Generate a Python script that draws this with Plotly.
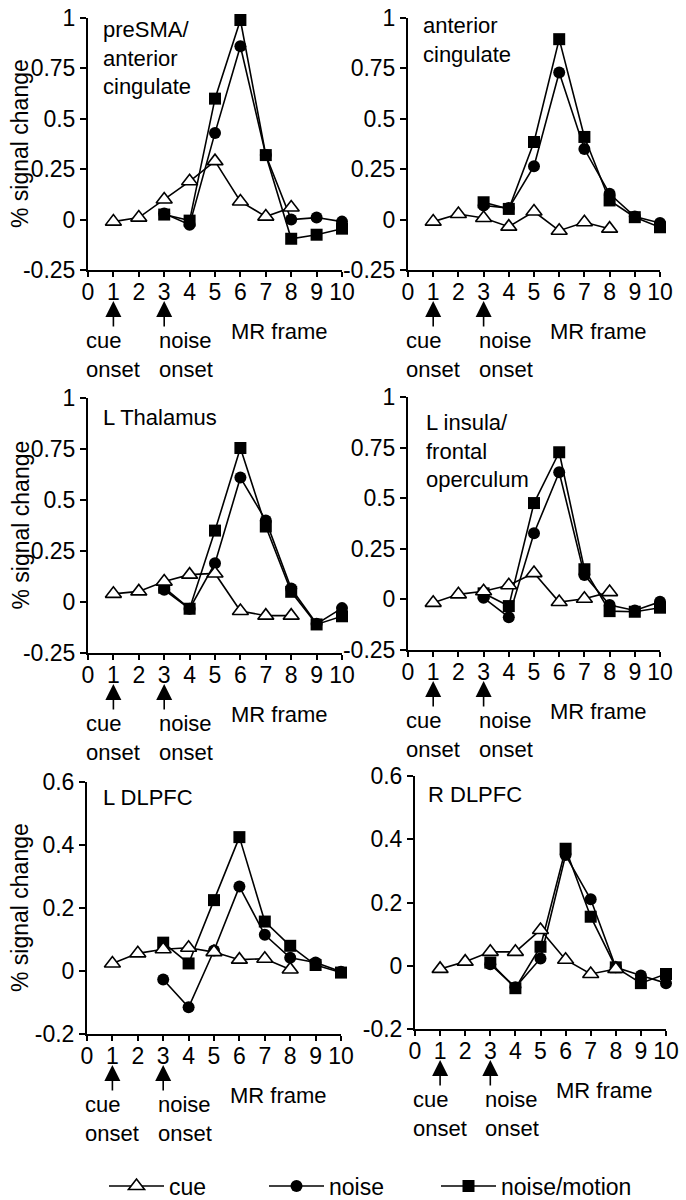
import plotly.graph_objects as go

# ---------------- data ----------------
frames_cue = [1, 2, 3, 4, 5, 6, 7, 8]
frames_noise = [3, 4, 5, 6, 7, 8, 9, 10]

p1_cue = [-0.01, 0.01, 0.10, 0.19, 0.29, 0.09, 0.015, 0.06]
p1_noise = [0.03, -0.025, 0.43, 0.86, 0.32, 0.0, 0.01, -0.01]
p1_motion = [0.025, -0.005, 0.60, 0.99, 0.32, -0.095, -0.075, -0.045]

p2_cue = [-0.01, 0.028, 0.008, -0.035, 0.04, -0.055, -0.013, -0.045]
p2_noise = [0.07, 0.057, 0.265, 0.73, 0.35, 0.128, 0.015, -0.017]
p2_motion = [0.086, 0.053, 0.385, 0.895, 0.41, 0.095, 0.012, -0.038]

p3_cue = [0.04, 0.052, 0.10, 0.134, 0.14, -0.044, -0.067, -0.067]
p3_noise = [0.06, -0.033, 0.19, 0.61, 0.40, 0.066, -0.107, -0.03]
p3_motion = [0.07, -0.033, 0.35, 0.755, 0.37, 0.05, -0.11, -0.07]

p4_cue = [-0.017, 0.025, 0.04, 0.07, 0.13, -0.013, 0.003, 0.036]
p4_noise = [0.008, -0.088, 0.327, 0.628, 0.12, -0.028, -0.055, -0.012]
p4_motion = [0.03, -0.033, 0.476, 0.727, 0.149, -0.058, -0.061, -0.041]

p5_cue = [0.024, 0.056, 0.069, 0.074, 0.06, 0.036, 0.039, 0.005]
p5_noise = [-0.027, -0.115, 0.065, 0.268, 0.115, 0.042, 0.027, -0.002]
p5_motion = [0.09, 0.024, 0.225, 0.425, 0.157, 0.08, 0.019, -0.005]

p6_cue = [-0.01, 0.013, 0.044, 0.044, 0.113, 0.019, -0.026, -0.01]
p6_noise = [0.005, -0.068, 0.023, 0.35, 0.21, -0.005, -0.031, -0.055]
p6_motion = [0.01, -0.071, 0.06, 0.37, 0.155, -0.005, -0.055, -0.026]

region_titles = [
    "preSMA/<br>anterior<br>cingulate",
    "anterior<br>cingulate",
    "L Thalamus",
    "L insula/<br>frontal<br>operculum",
    "L DLPFC",
    "R DLPFC",
]

x_ticks = list(range(0, 11))
y_ticks_big = [-0.25, 0, 0.25, 0.5, 0.75, 1]
y_ticktext_big = ["-0.25", "0", "0.25", "0.5", "0.75", "1"]
y_ticks_small = [-0.2, 0, 0.2, 0.4, 0.6]
y_ticktext_small = ["-0.2", "0", "0.2", "0.4", "0.6"]

series_names = ["cue", "noise", "noise/motion"]
y_title = "% signal change"
x_title = "MR frame"
cue_label = "cue<br>onset"
noise_label = "noise<br>onset"

# ---------------- layout helpers ----------------
W, H = 686, 1200
FONT = "Liberation Sans, Arial, Helvetica, sans-serif"
FS = 21


def xp(px):
    return px / W


def yp(py):
    return 1 - py / H


# box = (x0, x1, y_top, y_bottom) in pixels; tl = title left px; tt = title top px
panels = [
    dict(cue=p1_cue, noise=p1_noise, motion=p1_motion, box=(88, 342, 18, 270),
         yr=(-0.25, 1), yt=(y_ticks_big, y_ticktext_big), tl=101, tt=15, ytitle=True),
    dict(cue=p2_cue, noise=p2_noise, motion=p2_motion, box=(408, 660, 18, 270),
         yr=(-0.25, 1), yt=(y_ticks_big, y_ticktext_big), tl=421, tt=11, ytitle=False),
    dict(cue=p3_cue, noise=p3_noise, motion=p3_motion, box=(88, 342, 398, 653),
         yr=(-0.25, 1), yt=(y_ticks_big, y_ticktext_big), tl=101, tt=403, ytitle=True),
    dict(cue=p4_cue, noise=p4_noise, motion=p4_motion, box=(408, 660, 397, 650),
         yr=(-0.25, 1), yt=(y_ticks_big, y_ticktext_big), tl=424, tt=408, ytitle=False),
    dict(cue=p5_cue, noise=p5_noise, motion=p5_motion, box=(87, 341, 782, 1034),
         yr=(-0.2, 0.6), yt=(y_ticks_small, y_ticktext_small), tl=101, tt=783, ytitle=True),
    dict(cue=p6_cue, noise=p6_noise, motion=p6_motion, box=(415, 666, 776, 1029),
         yr=(-0.2, 0.6), yt=(y_ticks_small, y_ticktext_small), tl=426, tt=780, ytitle=False),
]

fig = go.Figure()
annotations = []
layout_axes = {}

for i, p in enumerate(panels, start=1):
    x0, x1, yt_px, yb_px = p["box"]
    xa = "x" if i == 1 else f"x{i}"
    ya = "y" if i == 1 else f"y{i}"
    first = i == 1

    fig.add_trace(go.Scatter(
        x=frames_noise, y=p["motion"], mode="lines+markers", name=series_names[2],
        line=dict(color="black", width=1.6),
        marker=dict(symbol="square", size=12, color="black"),
        cliponaxis=False, showlegend=first, legend="legend3", xaxis=xa, yaxis=ya))
    fig.add_trace(go.Scatter(
        x=frames_noise, y=p["noise"], mode="lines+markers", name=series_names[1],
        line=dict(color="black", width=1.6),
        marker=dict(symbol="circle", size=12, color="black"),
        cliponaxis=False, showlegend=first, legend="legend2", xaxis=xa, yaxis=ya))
    fig.add_trace(go.Scatter(
        x=frames_cue, y=p["cue"], mode="lines+markers", name=series_names[0],
        line=dict(color="black", width=1.6),
        marker=dict(symbol="triangle-up", size=14, color="white",
                    line=dict(color="black", width=1.6)),
        cliponaxis=False, showlegend=first, legend="legend", xaxis=xa, yaxis=ya))

    xkey = "xaxis" if i == 1 else f"xaxis{i}"
    ykey = "yaxis" if i == 1 else f"yaxis{i}"
    layout_axes[xkey] = dict(
        domain=[xp(x0), xp(x1)], range=[0, 10], anchor=ya,
        tickmode="array", tickvals=x_ticks, ticktext=[str(v) for v in x_ticks],
        ticks="outside", ticklen=5, tickwidth=1.5, tickcolor="black",
        ticklabelstandoff=-5,
        showline=True, linecolor="black", linewidth=2,
        showgrid=False, zeroline=False, fixedrange=True,
        tickfont=dict(family=FONT, size=23, color="black"))
    layout_axes[ykey] = dict(
        domain=[yp(yb_px), yp(yt_px)], range=list(p["yr"]), anchor=xa,
        tickmode="array", tickvals=p["yt"][0], ticktext=p["yt"][1],
        ticks="outside", ticklen=6, tickwidth=1.5, tickcolor="black",
        showline=True, linecolor="black", linewidth=2,
        showgrid=False, zeroline=False, fixedrange=True,
        tickfont=dict(family=FONT, size=23, color="black"))

    # region title
    annotations.append(dict(
        text=region_titles[i - 1], xref="paper", yref="paper", x=xp(p["tl"]), y=yp(p["tt"]),
        xanchor="left", yanchor="top", align="left", showarrow=False,
        font=dict(family=FONT, size=22, color="black")))

    # y title
    if p["ytitle"]:
        annotations.append(dict(
            text=y_title, xref="paper", yref="paper", x=xp(20), y=yp((yt_px + yb_px) / 2),
            xanchor="center", yanchor="middle", textangle=-90, showarrow=False,
            font=dict(family=FONT, size=23, color="black")))

    A = yb_px
    # onset arrows
    for fx in (1, 3):
        annotations.append(dict(
            text="", xref=xa, yref="paper", x=fx, y=yp(A + 31),
            ax=0, ay=27, showarrow=True, arrowhead=2, arrowsize=2.0,
            arrowwidth=1.6, arrowcolor="black"))
    # onset labels (paper coords so they are never hidden)
    span = (x1 - x0) / 10.0
    for fx, word in ((-0.15, cue_label), (2.72, noise_label)):
        annotations.append(dict(
            text=word, xref="paper", yref="paper", x=xp(x0 + fx * span), y=yp(A + 56),
            xanchor="left", yanchor="top", align="left", showarrow=False,
            font=dict(family=FONT, size=22, color="black")))
    # x title
    annotations.append(dict(
        text=x_title, xref="paper", yref="paper", x=xp(x0 + 5.55 * span), y=yp(A + 61),
        xanchor="left", yanchor="middle", showarrow=False,
        font=dict(family=FONT, size=22, color="black")))

legend_common = dict(orientation="h", y=yp(1186), xanchor="left", yanchor="middle",
                     font=dict(family=FONT, size=23, color="black"),
                     bgcolor="rgba(0,0,0,0)", itemwidth=55)

fig.update_layout(
    width=W, height=H,
    margin=dict(l=0, r=0, t=0, b=0, autoexpand=False),
    paper_bgcolor="white", plot_bgcolor="white",
    font=dict(family=FONT, size=FS, color="black"),
    showlegend=True,
    legend=dict(x=xp(104), **legend_common),
    legend2=dict(x=xp(264), **legend_common),
    legend3=dict(x=xp(436), **legend_common),
    annotations=annotations,
    **layout_axes,
)

fig.write_html("out.html", config={"displayModeBar": False},
               post_script="document.body.style.margin='0px';")
